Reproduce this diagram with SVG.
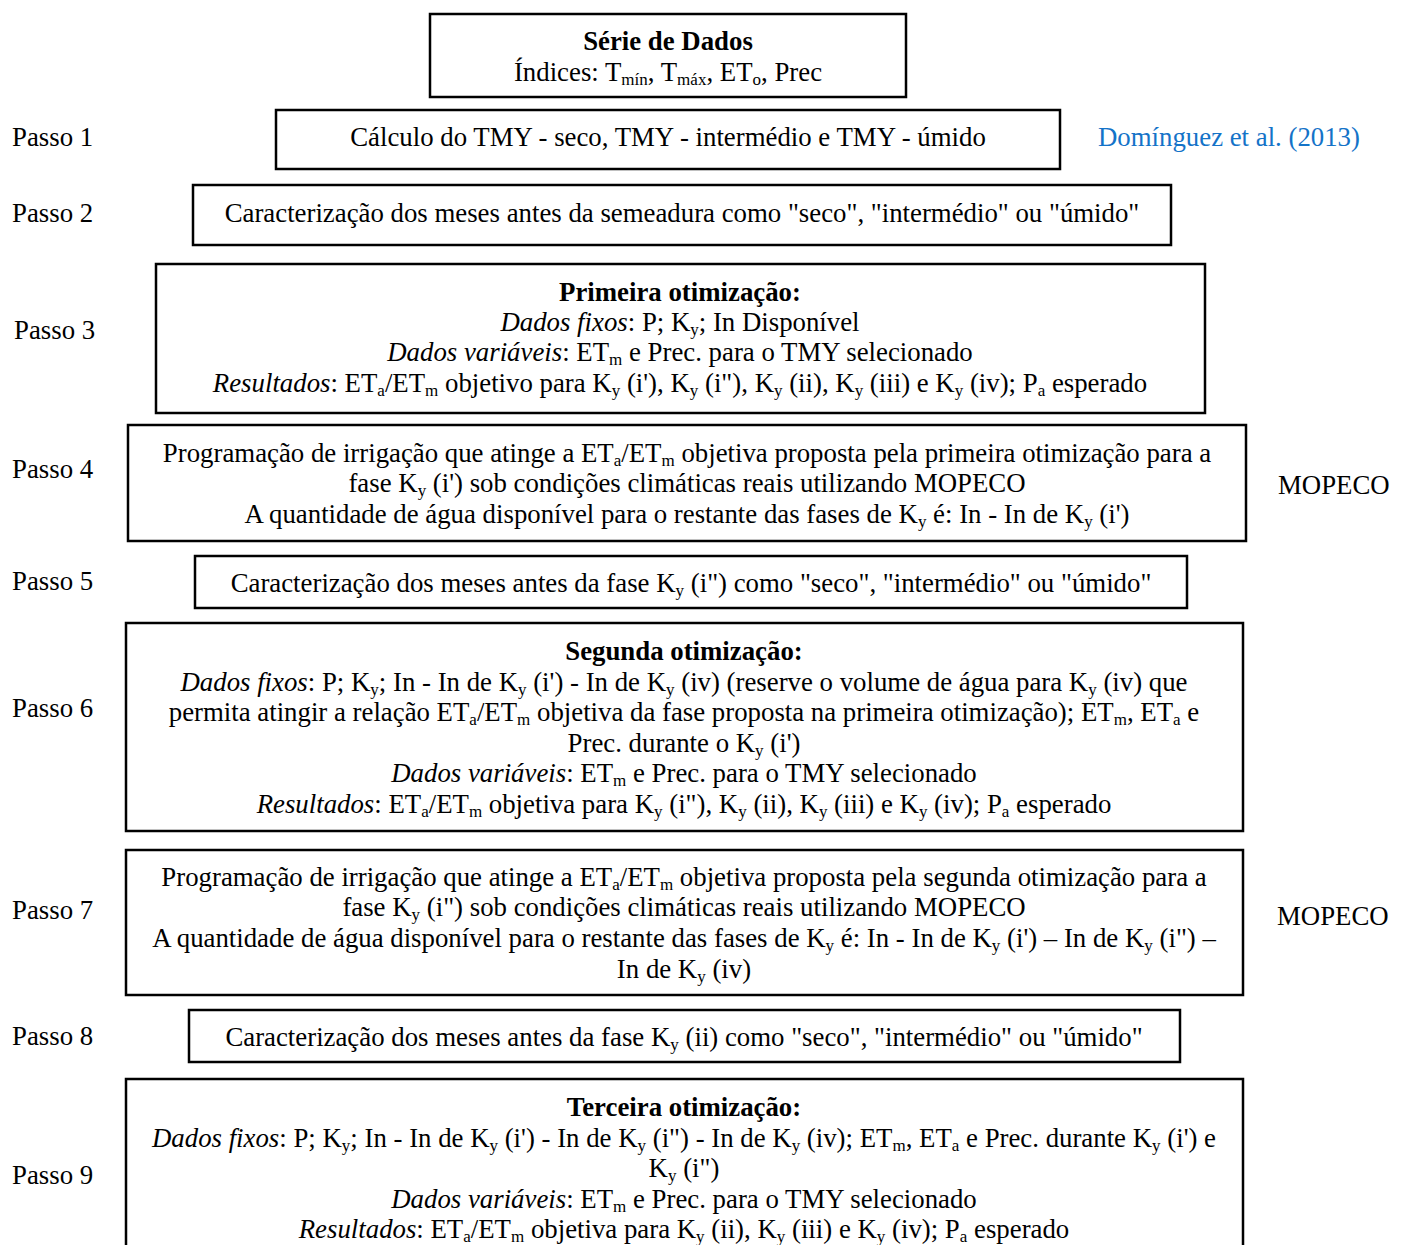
<svg xmlns="http://www.w3.org/2000/svg" width="1404" height="1245" viewBox="0 0 1404 1245">
<style>
text{font-family:"Liberation Serif","Times New Roman",serif;font-size:26.8px;fill:#000}
.c{text-anchor:middle}
.b{font-weight:bold}
.i{font-style:italic}
.s{font-size:17px;baseline-shift:-3.5px}
.ref{fill:#1473c8}
.box{fill:#fff;stroke:#000;stroke-width:2.5}
</style>
<rect width="1404" height="1245" fill="#fff"/>
<g id="labels">
<text x="12" y="146">Passo 1</text>
<text x="12" y="222">Passo 2</text>
<text x="14" y="339">Passo 3</text>
<text x="12" y="478">Passo 4</text>
<text x="12" y="590">Passo 5</text>
<text x="12" y="717">Passo 6</text>
<text x="12" y="919">Passo 7</text>
<text x="12" y="1045">Passo 8</text>
<text x="12" y="1184">Passo 9</text>
<text class="ref" x="1098" y="146">Domínguez et al. (2013)</text>
<text x="1278" y="494">MOPECO</text>
<text x="1277" y="925">MOPECO</text>
</g>
<g id="node0">
<rect class="box" x="430" y="14" width="476" height="83"/>
<text class="c b" x="668" y="50">Série de Dados</text>
<text class="c" x="668" y="81">Índices: T<tspan class="s">mín</tspan>, T<tspan class="s">máx</tspan>, ET<tspan class="s">o</tspan>, Prec</text>
</g>
<g id="node1">
<rect class="box" x="276" y="110" width="784" height="59"/>
<text class="c" x="668" y="146">Cálculo do TMY - seco, TMY - intermédio e TMY - úmido</text>
</g>
<g id="node2">
<rect class="box" x="193" y="185" width="978" height="60"/>
<text class="c" x="682" y="222">Caracterização dos meses antes da semeadura como "seco", "intermédio" ou "úmido"</text>
</g>
<g id="node3">
<rect class="box" x="156" y="264" width="1049" height="149"/>
<text class="c b" x="680" y="301">Primeira otimização:</text>
<text class="c" x="680" y="331"><tspan class="i">Dados fixos</tspan>: P; K<tspan class="s">y</tspan>; In Disponível</text>
<text class="c" x="680" y="361"><tspan class="i">Dados variáveis</tspan>: ET<tspan class="s">m</tspan> e Prec. para o TMY selecionado</text>
<text class="c" x="680" y="392"><tspan class="i">Resultados</tspan>: ET<tspan class="s">a</tspan>/ET<tspan class="s">m</tspan> objetivo para K<tspan class="s">y</tspan> (i'), K<tspan class="s">y</tspan> (i"), K<tspan class="s">y</tspan> (ii), K<tspan class="s">y</tspan> (iii) e K<tspan class="s">y</tspan> (iv); P<tspan class="s">a</tspan> esperado</text>
</g>
<g id="node4">
<rect class="box" x="128" y="425" width="1118" height="116"/>
<text class="c" x="687" y="462">Programação de irrigação que atinge a ET<tspan class="s">a</tspan>/ET<tspan class="s">m</tspan> objetiva proposta pela primeira otimização para a</text>
<text class="c" x="687" y="492">fase K<tspan class="s">y</tspan> (i') sob condições climáticas reais utilizando MOPECO</text>
<text class="c" x="687" y="523">A quantidade de água disponível para o restante das fases de K<tspan class="s">y</tspan> é: In - In de K<tspan class="s">y</tspan> (i')</text>
</g>
<g id="node5">
<rect class="box" x="195" y="556" width="992" height="52"/>
<text class="c" x="691" y="592">Caracterização dos meses antes da fase K<tspan class="s">y</tspan> (i") como "seco", "intermédio" ou "úmido"</text>
</g>
<g id="node6">
<rect class="box" x="126" y="623" width="1117" height="208"/>
<text class="c b" x="684" y="660">Segunda otimização:</text>
<text class="c" x="684" y="691"><tspan class="i">Dados fixos</tspan>: P; K<tspan class="s">y</tspan>; In - In de K<tspan class="s">y</tspan> (i') - In de K<tspan class="s">y</tspan> (iv) (reserve o volume de água para K<tspan class="s">y</tspan> (iv) que</text>
<text class="c" x="684" y="721">permita atingir a relação ET<tspan class="s">a</tspan>/ET<tspan class="s">m</tspan> objetiva da fase proposta na primeira otimização); ET<tspan class="s">m</tspan>, ET<tspan class="s">a</tspan> e</text>
<text class="c" x="684" y="752">Prec. durante o K<tspan class="s">y</tspan> (i')</text>
<text class="c" x="684" y="782"><tspan class="i">Dados variáveis</tspan>: ET<tspan class="s">m</tspan> e Prec. para o TMY selecionado</text>
<text class="c" x="684" y="813"><tspan class="i">Resultados</tspan>: ET<tspan class="s">a</tspan>/ET<tspan class="s">m</tspan> objetiva para K<tspan class="s">y</tspan> (i"), K<tspan class="s">y</tspan> (ii), K<tspan class="s">y</tspan> (iii) e K<tspan class="s">y</tspan> (iv); P<tspan class="s">a</tspan> esperado</text>
</g>
<g id="node7">
<rect class="box" x="126" y="850" width="1117" height="145"/>
<text class="c" x="684" y="886">Programação de irrigação que atinge a ET<tspan class="s">a</tspan>/ET<tspan class="s">m</tspan> objetiva proposta pela segunda otimização para a</text>
<text class="c" x="684" y="916">fase K<tspan class="s">y</tspan> (i") sob condições climáticas reais utilizando MOPECO</text>
<text class="c" x="684" y="947">A quantidade de água disponível para o restante das fases de K<tspan class="s">y</tspan> é: In - In de K<tspan class="s">y</tspan> (i') – In de K<tspan class="s">y</tspan> (i") –</text>
<text class="c" x="684" y="978">In de K<tspan class="s">y</tspan> (iv)</text>
</g>
<g id="node8">
<rect class="box" x="189" y="1010" width="991" height="52"/>
<text class="c" x="684" y="1046">Caracterização dos meses antes da fase K<tspan class="s">y</tspan> (ii) como "seco", "intermédio" ou "úmido"</text>
</g>
<g id="node9">
<rect class="box" x="126" y="1079" width="1117" height="200"/>
<text class="c b" x="684" y="1116">Terceira otimização:</text>
<text class="c" x="684" y="1147"><tspan class="i">Dados fixos</tspan>: P; K<tspan class="s">y</tspan>; In - In de K<tspan class="s">y</tspan> (i') - In de K<tspan class="s">y</tspan> (i") - In de K<tspan class="s">y</tspan> (iv); ET<tspan class="s">m</tspan>, ET<tspan class="s">a</tspan> e Prec. durante K<tspan class="s">y</tspan> (i') e</text>
<text class="c" x="684" y="1177">K<tspan class="s">y</tspan> (i")</text>
<text class="c" x="684" y="1208"><tspan class="i">Dados variáveis</tspan>: ET<tspan class="s">m</tspan> e Prec. para o TMY selecionado</text>
<text class="c" x="684" y="1238"><tspan class="i">Resultados</tspan>: ET<tspan class="s">a</tspan>/ET<tspan class="s">m</tspan> objetiva para K<tspan class="s">y</tspan> (ii), K<tspan class="s">y</tspan> (iii) e K<tspan class="s">y</tspan> (iv); P<tspan class="s">a</tspan> esperado</text>
</g>
<g id="connectors"></g>
</svg>
